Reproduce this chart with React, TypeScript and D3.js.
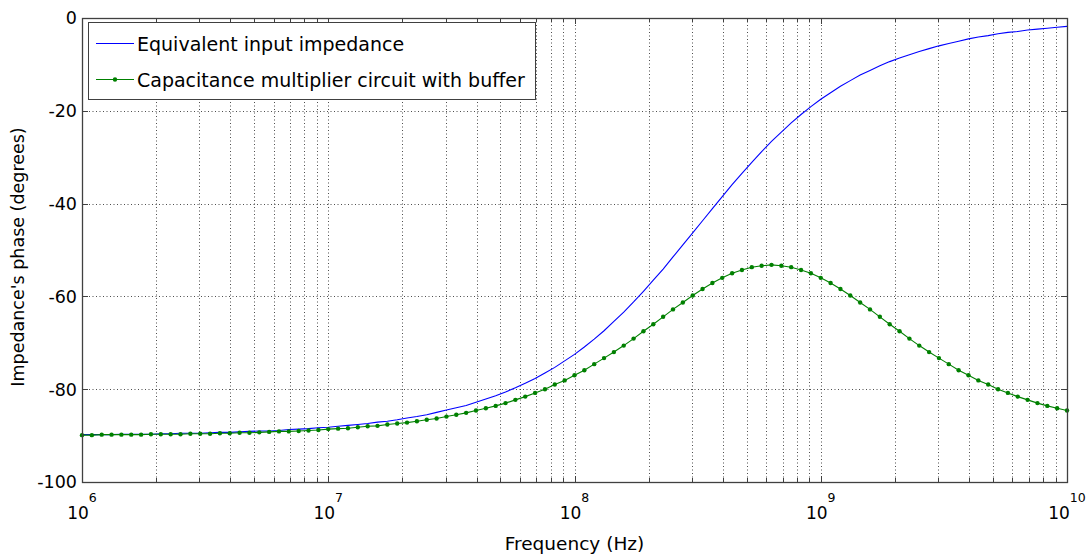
import React from "react";
import * as d3 from "d3";

const freqExp = [
  6.00, 6.04, 6.08, 6.12, 6.16, 6.20, 6.24, 6.28, 6.32, 6.36,
  6.40, 6.44, 6.48, 6.52, 6.56, 6.60, 6.64, 6.68, 6.72, 6.76,
  6.80, 6.84, 6.88, 6.92, 6.96, 7.00, 7.04, 7.08, 7.12, 7.16,
  7.20, 7.24, 7.28, 7.32, 7.36, 7.40, 7.44, 7.48, 7.52, 7.56,
  7.60, 7.64, 7.68, 7.72, 7.76, 7.80, 7.84, 7.88, 7.92, 7.96,
  8.00, 8.04, 8.08, 8.12, 8.16, 8.20, 8.24, 8.28, 8.32, 8.36,
  8.40, 8.44, 8.48, 8.52, 8.56, 8.60, 8.64, 8.68, 8.72, 8.76,
  8.80, 8.84, 8.88, 8.92, 8.96, 9.00, 9.04, 9.08, 9.12, 9.16,
  9.20, 9.24, 9.28, 9.32, 9.36, 9.40, 9.44, 9.48, 9.52, 9.56,
  9.60, 9.64, 9.68, 9.72, 9.76, 9.80, 9.84, 9.88, 9.92, 9.96,
  10.00,
];

const equivalentPhase = [
  -89.8, -89.8, -89.8, -89.8, -89.7, -89.7, -89.7, -89.7, -89.6, -89.6,
  -89.5, -89.5, -89.5, -89.4, -89.3, -89.3, -89.2, -89.1, -89.0, -89.0,
  -88.9, -88.7, -88.6, -88.5, -88.3, -88.2, -88.0, -87.8, -87.6, -87.4,
  -87.1, -86.9, -86.6, -86.2, -85.9, -85.5, -85.0, -84.5, -84.0, -83.5,
  -82.8, -82.1, -81.4, -80.6, -79.7, -78.7, -77.7, -76.5, -75.3, -73.9,
  -72.5, -70.9, -69.2, -67.4, -65.4, -63.4, -61.2, -58.9, -56.5, -54.1,
  -51.5, -48.9, -46.3, -43.7, -41.1, -38.5, -35.9, -33.5, -31.1, -28.8,
  -26.6, -24.6, -22.6, -20.8, -19.1, -17.5, -16.1, -14.7, -13.5, -12.3,
  -11.3, -10.3, -9.4, -8.6, -7.9, -7.2, -6.6, -6.0, -5.5, -5.0,
  -4.5, -4.1, -3.8, -3.4, -3.1, -2.9, -2.6, -2.4, -2.2, -2.0,
  -1.8,
];

const bufferPhase = [
  -89.9, -89.9, -89.8, -89.8, -89.8, -89.8, -89.8, -89.7, -89.7, -89.7,
  -89.7, -89.6, -89.6, -89.6, -89.5, -89.5, -89.4, -89.4, -89.3, -89.2,
  -89.1, -89.1, -89.0, -88.9, -88.8, -88.6, -88.5, -88.4, -88.2, -88.0,
  -87.9, -87.6, -87.4, -87.2, -86.9, -86.6, -86.3, -85.9, -85.5, -85.1,
  -84.6, -84.1, -83.6, -83.0, -82.3, -81.6, -80.8, -80.0, -79.0, -78.1,
  -77.0, -75.9, -74.6, -73.3, -72.0, -70.6, -69.1, -67.5, -66.0, -64.4,
  -62.8, -61.3, -59.8, -58.4, -57.1, -56.0, -55.0, -54.3, -53.7, -53.4,
  -53.2, -53.4, -53.7, -54.3, -55.0, -56.0, -57.1, -58.4, -59.8, -61.3,
  -62.8, -64.4, -66.0, -67.5, -69.1, -70.6, -72.0, -73.3, -74.6, -75.9,
  -77.0, -78.1, -79.0, -80.0, -80.8, -81.6, -82.3, -83.0, -83.6, -84.1,
  -84.6,
];

const yTicks = [0, -20, -40, -60, -80, -100];
const xDecades = [6, 7, 8, 9, 10];
const minorMultipliers = [2, 3, 4, 5, 6, 7, 8, 9];
const seriesNames = ["Equivalent input impedance", "Capacitance multiplier circuit with buffer"];

const FONT = "'DejaVu Sans', Verdana, sans-serif";

export default function App() {
  const W = 1092, H = 554;
  const L = 82, R = 1067, T = 18, B = 482;
  const x = d3.scaleLog().domain([1e6, 1e10]).range([L, R]);
  const y = d3.scaleLinear().domain([-100, 0]).range([B, T]);

  const freqs = freqExp.map((e) => Math.pow(10, e));
  const line = d3
    .line<number>()
    .x((_, i) => x(freqs[i]))
    .y((d) => y(d));

  const minorFreqs: number[] = [];
  xDecades.slice(0, -1).forEach((d) =>
    minorMultipliers.forEach((m) => minorFreqs.push(m * Math.pow(10, d)))
  );
  const majorFreqs = xDecades.map((d) => Math.pow(10, d));

  const axisColor = "#404040";
  const gridProps = { stroke: "#222", strokeWidth: 1, strokeDasharray: "1,2.5", opacity: 0.8 };

  return (
    <svg
      width={W}
      height={H}
      style={{ position: "absolute", left: 0, top: 0, background: "#fff" }}
      fontFamily={FONT}
    >
      <rect x={0} y={0} width={W} height={H} fill="#fff" />
      {/* grid */}
      <g>
        {[...minorFreqs, ...majorFreqs.slice(1, -1)].map((f, i) => (
          <line key={"gx" + i} x1={Math.round(x(f)) + 0.5} x2={Math.round(x(f)) + 0.5} y1={T} y2={B} {...gridProps} />
        ))}
        {yTicks.slice(1, -1).map((v) => (
          <line key={"gy" + v} x1={L} x2={R} y1={Math.round(y(v)) + 0.5} y2={Math.round(y(v)) + 0.5} {...gridProps} />
        ))}
      </g>
      {/* ticks */}
      <g stroke={axisColor} strokeWidth={1}>
        {majorFreqs.map((f, i) => {
          const px = Math.round(x(f)) + 0.5;
          return (
            <g key={"mt" + i}>
              <line x1={px} x2={px} y1={B} y2={B - 6} />
              <line x1={px} x2={px} y1={T} y2={T + 6} />
            </g>
          );
        })}
        {minorFreqs.map((f, i) => {
          const px = Math.round(x(f)) + 0.5;
          return (
            <g key={"nt" + i}>
              <line x1={px} x2={px} y1={B} y2={B - 4} />
              <line x1={px} x2={px} y1={T} y2={T + 4} />
            </g>
          );
        })}
        {yTicks.map((v) => {
          const py = Math.round(y(v)) + 0.5;
          return (
            <g key={"yt" + v}>
              <line x1={L} x2={L + 6} y1={py} y2={py} />
              <line x1={R} x2={R - 6} y1={py} y2={py} />
            </g>
          );
        })}
      </g>
      {/* series */}
      <path d={line(equivalentPhase) || ""} fill="none" stroke="#0000ff" strokeWidth={1.1} />
      <path d={line(bufferPhase) || ""} fill="none" stroke="#008000" strokeWidth={1.1} />
      {bufferPhase.map((v, i) => (
        <circle key={"m" + i} cx={x(freqs[i])} cy={y(v)} r={2.2} fill="#008000" />
      ))}
      {/* box */}
      <rect x={L + 0.5} y={T + 0.5} width={R - L} height={B - T} fill="none" stroke={axisColor} strokeWidth={1.3} />
      {/* y tick labels */}
      {yTicks.map((v) => (
        <text key={"yl" + v} x={L - 5} y={y(v)} dy="0.36em" textAnchor="end" fontSize={17.5} fill="#000">
          {v}
        </text>
      ))}
      {/* x tick labels */}
      {xDecades.map((d) => (
        <text key={"xl" + d} x={x(Math.pow(10, d))} y={519} textAnchor="middle" fontSize={17} fill="#000">
          10
          <tspan dy={-17} fontSize={12.5}>
            {d}
          </tspan>
        </text>
      ))}
      {/* axis labels */}
      <text x={(L + R) / 2} y={550} textAnchor="middle" fontSize={18.5} fill="#000">
        Frequency (Hz)
      </text>
      <text transform={`translate(24, ${(T + B) / 2 + 7}) rotate(-90)`} textAnchor="middle" fontSize={17.5} fill="#000">
        Impedance's phase (degrees)
      </text>
      {/* legend */}
      <g>
        <rect x={88.5} y={22.5} width={447} height={77} fill="#fff" stroke={axisColor} strokeWidth={1} />
        <line x1={96} x2={134} y1={43.5} y2={43.5} stroke="#0000ff" strokeWidth={1} />
        <line x1={96} x2={134} y1={79.5} y2={79.5} stroke="#008000" strokeWidth={1} />
        <circle cx={115} cy={79.5} r={2.2} fill="#008000" />
        <text x={137} y={44} dy="0.36em" fontSize={19} fill="#000">
          {seriesNames[0]}
        </text>
        <text x={137} y={80} dy="0.36em" fontSize={19} fill="#000">
          {seriesNames[1]}
        </text>
      </g>
    </svg>
  );
}
